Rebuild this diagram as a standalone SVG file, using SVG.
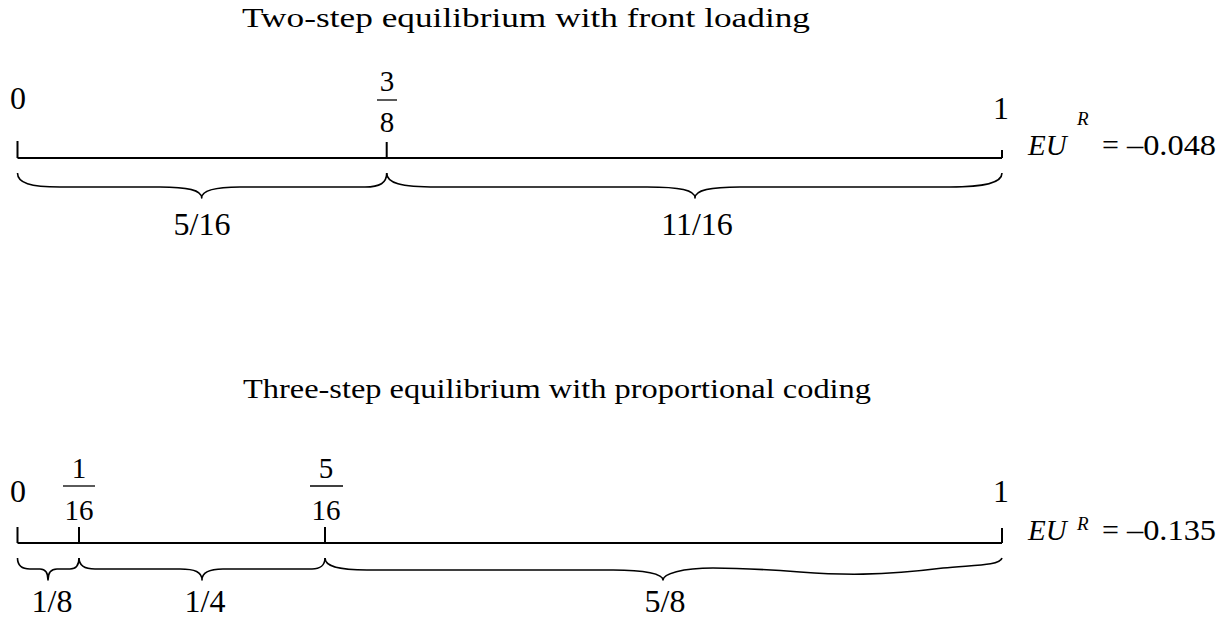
<svg xmlns="http://www.w3.org/2000/svg" width="1229" height="619" viewBox="0 0 1229 619">
<style>
.t{font-family:'Liberation Serif','Times New Roman',serif;fill:#000}
.title{font-size:27px}
.big{font-size:32px;text-anchor:middle}
.frac{font-size:29px;text-anchor:middle}
.eu{font-size:29px;font-style:italic}
.sup{font-size:19px;font-style:italic}
.num{font-size:30px}
.ax{stroke:#000;stroke-width:2;fill:none}
.bar{stroke:#000;stroke-width:1.3;fill:none}
.br{stroke:#000;stroke-width:1.6;fill:none;stroke-linejoin:round}
</style>
<rect width="1229" height="619" fill="#fff"/>
<g id="top">
  <text class="t title" x="242" y="27" textLength="568" lengthAdjust="spacingAndGlyphs">Two-step equilibrium with front loading</text>
  <g id="top-axis">
    <path class="ax" d="M17.5 158 H1002 M17.5 141 V158 M386.7 142 V158 M1002 150 V158"/>
  </g>
  <g id="top-ticks-labels">
    <text class="t big" x="18" y="109">0</text>
    <text class="t frac" x="387" y="91">3</text>
    <line class="bar" x1="377" y1="100" x2="397" y2="100"/>
    <text class="t frac" x="387" y="132">8</text>
    <text class="t big" x="1001" y="119">1</text>
    <text class="t eu" x="1028" y="155">EU</text>
    <text class="t sup" x="1077" y="125">R</text>
    <text class="t num" x="1102" y="155">=</text>
    <text class="t num" x="1127" y="155" textLength="89" lengthAdjust="spacingAndGlyphs">–0.048</text>
  </g>
  <g id="top-braces">
    <path class="br" d="M17.5 173 C17.5 183 30 187 60 187 L160 187 C188 187 201.7 190 201.7 198 C201.7 190 215 187 240 187 L365 187 C380 187 386.7 183 386.7 173"/>
    <path class="br" d="M386.7 173 C386.7 183 400 187 437 187 L647 187 C680 187 695 190 695 198 C695 190 710 187 740 187 L950 187 C985 187 1002 183 1002 173"/>
    <text class="t big" x="202" y="235">5/16</text>
    <text class="t big" x="697" y="235">11/16</text>
  </g>
</g>
<g id="bottom">
  <text class="t title" x="243" y="398" textLength="628" lengthAdjust="spacingAndGlyphs">Three-step equilibrium with proportional coding</text>
  <g id="bottom-axis">
    <path class="ax" d="M17.5 543 H1002 M17.5 527 V543 M79 527 V543 M325 527 V543 M1002 528 V543"/>
  </g>
  <g id="bottom-ticks-labels">
    <text class="t big" x="18" y="502">0</text>
    <text class="t frac" x="79" y="478">1</text>
    <line class="bar" x1="63" y1="486" x2="95" y2="486"/>
    <text class="t frac" x="79" y="520">16</text>
    <text class="t frac" x="326" y="478">5</text>
    <line class="bar" x1="310" y1="486" x2="343" y2="486"/>
    <text class="t frac" x="326" y="520">16</text>
    <text class="t big" x="1001" y="502">1</text>
    <text class="t eu" x="1028" y="540">EU</text>
    <text class="t sup" x="1077" y="530">R</text>
    <text class="t num" x="1102" y="540">=</text>
    <text class="t num" x="1127" y="540" textLength="89" lengthAdjust="spacingAndGlyphs">–0.135</text>
  </g>
  <g id="bottom-braces">
    <path class="br" d="M17.5 558 C17.5 565 21 569 30 569 L40 569 C45 569 48 572 48 580 C48 572 51 569 57 569 L70 569 C76 569 79 565 79 558"/>
    <path class="br" d="M79 558 C79 565 84 569 95 569 L180 569 C195 569 202 572 202 580 C202 572 209 569 223 569 L312 569 C320 569 325 565 325 558"/>
    <path class="br" d="M325 558 C325 566 337 570 367 570 L613 570 C645 570 663 574 663 580 C663 574 682 568 713 568 C740 568 760 569 800 572 C840 575 880 576 943 568 C972 565 1000 566 1002 558"/>
    <text class="t big" x="52" y="612">1/8</text>
    <text class="t big" x="205" y="612">1/4</text>
    <text class="t big" x="665" y="612">5/8</text>
  </g>
</g>
</svg>
